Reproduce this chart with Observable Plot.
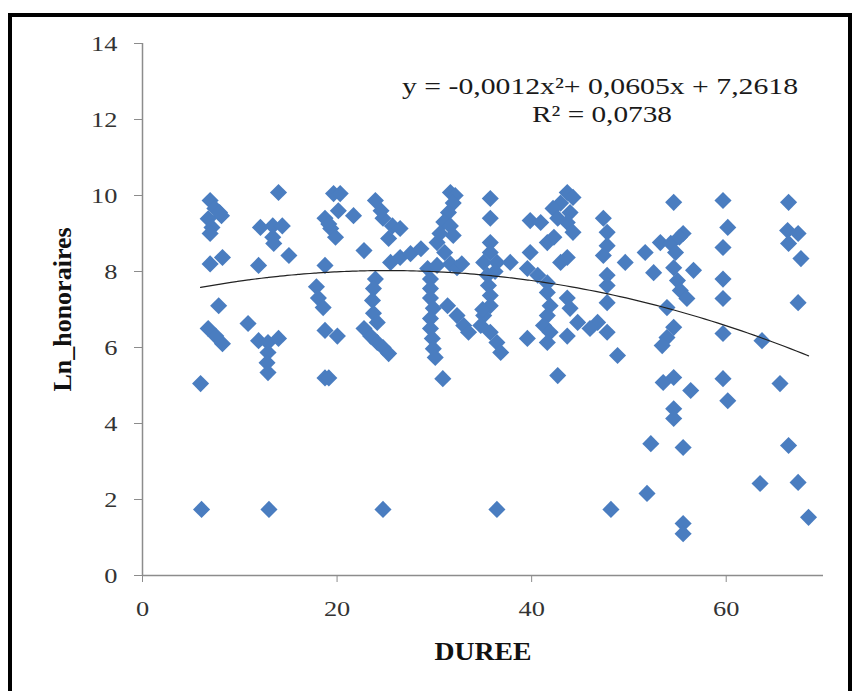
<!DOCTYPE html>
<html>
<head>
<meta charset="utf-8">
<script src="https://cdn.jsdelivr.net/npm/d3@7"></script>
<script src="https://cdn.jsdelivr.net/npm/@observablehq/plot@0.6"></script>
<style>
  body { margin: 0; background: #fff; }
  #wrap { position: relative; width: 854px; height: 691px; overflow: hidden; background: #fff; }
  #frame { position: absolute; left: 8px; top: 13px; width: 836px; height: 700px; border: 4px solid #000; pointer-events: none; }
  svg { font-family: "Liberation Serif", "DejaVu Serif", serif; }
</style>
</head>
<body>
<div id="wrap"><div id="frame"></div></div>
<script>
const duree = [
  6.07,5.97,6.95,7.44,8.12,6.75,7.14,6.95,6.95,8.22,7.83,6.75,8.22,7.53,7.92,
  13.98,12.12,13.39,14.37,13.39,13.49,15.05,11.93,10.85,11.93,12.90,13.98,12.90,12.80,12.90,13.0,
  19.64,20.32,18.76,19.35,19.84,21.69,18.76,17.88,18.08,18.57,18.76,20.03,18.76,19.15,20.13,19.15,
  23.94,24.72,25.69,26.48,25.30,22.77,25.50,26.48,27.55,28.62,23.94,23.74,23.64,23.74,24.13,22.77,23.45,24.13,24.72,25.30,24.72,24.52,
  31.65,32.14,31.94,31.45,30.97,31.65,31.94,30.28,29.31,30.28,31.65,32.33,29.60,29.60,29.60,29.89,29.60,29.60,29.79,29.89,30.09,31.36,32.33,33.02,33.51,30.87,30.58,32.82,31.06,
  35.75,35.75,35.75,35.75,35.07,36.43,37.80,35.46,35.56,35.75,35.75,35.07,34.77,35.75,36.43,36.82,36.43,36.24,34.97,
  43.66,42.98,42.20,43.95,43.66,44.25,42.68,39.85,40.93,41.61,39.85,39.56,40.63,41.61,42.98,43.66,41.61,41.90,41.61,41.22,41.90,41.61,43.66,43.95,44.73,43.66,39.56,42.68,44.25,42.29,
  46.78,47.76,47.37,47.76,47.76,47.37,49.62,47.76,47.76,47.76,48.83,48.15,46.00,
  51.67,54.60,53.23,54.30,55.57,52.54,54.60,56.64,54.99,55.28,55.96,53.91,54.60,53.91,53.42,53.52,54.60,56.35,54.60,54.60,52.25,55.57,51.86,55.57,55.57,54.79,55.18,
  59.67,60.16,59.67,59.67,59.67,59.67,59.67,60.16,63.68,65.53,63.48,66.41,66.31,67.39,66.41,67.68,67.39,66.41,67.39,68.46
];
const lnHonoraires = [
  1.74,5.05,9.87,9.66,9.47,9.39,9.16,9.0,8.2,8.37,7.1,6.5,6.1,6.3,9.55,
  10.08,9.16,9.2,9.2,8.9,8.74,8.42,8.16,6.63,6.18,6.13,6.24,5.87,5.6,5.34,1.74,
  10.05,10.05,9.4,9.13,8.9,9.47,8.16,7.6,7.3,7.05,6.45,6.3,5.2,5.2,9.6,9.25,
  9.87,9.4,9.2,9.13,8.87,8.55,8.24,8.37,8.47,8.6,7.8,7.55,7.24,6.9,6.66,6.5,6.3,6.13,6.0,5.84,1.74,9.6,
  10.08,10.0,9.8,9.55,9.3,9.2,8.95,8.76,8.08,8.16,8.2,8.1,7.8,7.55,7.3,7.03,6.76,6.5,6.24,5.97,5.74,7.1,6.84,6.58,6.4,5.18,9.0,8.2,8.5,
  9.92,9.4,8.76,8.5,8.24,8.24,8.24,7.9,7.63,7.37,7.1,6.84,6.58,6.4,6.13,5.87,1.74,8.0,7.0,
  10.08,9.8,9.66,9.55,9.29,9.03,9.4,9.34,9.29,8.76,8.5,8.08,7.9,7.7,8.24,8.37,7.45,7.1,6.84,6.58,6.4,6.13,7.3,7.03,6.66,6.3,6.24,5.26,9.95,8.9,
  6.66,6.4,9.4,9.03,8.68,8.42,8.24,7.9,7.63,7.18,5.79,1.74,6.5,
  8.5,9.82,8.76,8.74,9.0,7.97,8.1,8.03,7.76,7.5,7.29,7.05,6.53,6.26,6.05,5.08,5.21,4.87,4.39,4.13,3.47,3.37,2.16,1.37,1.1,8.5,8.9,
  9.87,9.16,8.63,7.8,7.29,6.37,5.18,4.6,6.18,5.05,2.42,9.82,9.08,9.0,8.74,8.34,7.18,3.42,2.45,1.53
];
const xTicks = [0, 20, 40, 60];
const yTicks = [0, 2, 4, 6, 8, 10, 12, 14];
// Trendline coefficients as printed on the chart
const trendCoef = [-0.0012, 0.0605, 7.2618];
const equationLine = "y = -0,0012x\u00B2+ 0,0605x + 7,2618";
const r2Line = "R\u00B2 = 0,0738";
const xLabel = "DUREE";
const yLabel = "Ln_honoraires";

const points = duree.map((d, i) => ({x: d, y: lnHonoraires[i]}));
const xMin = d3.min(duree), xMax = d3.max(duree);
const trend = d3.range(xMin, xMax + 0.001, (xMax - xMin) / 100).map(x => ({x, y: trendCoef[0]*x*x + trendCoef[1]*x + trendCoef[2]}));

const axisColor = "#8c8c8c";
const chart = Plot.plot({
  width: 854,
  height: 691,
  marginLeft: 142,
  marginRight: 31,
  marginTop: 43,
  marginBottom: 116,
  style: {fontFamily: "'Liberation Serif', serif", background: "transparent"},
  x: {domain: [0, 70]},
  y: {domain: [0, 14]},
  marks: [
    Plot.ruleX([0], {stroke: axisColor, strokeWidth: 1.5}),
    Plot.ruleY([0], {stroke: axisColor, strokeWidth: 1.5}),
    Plot.axisX({ticks: xTicks, tickSize: 7, tickPadding: 18, fontSize: 22, label: null, stroke: axisColor, fill: "#333"}),
    Plot.axisY({ticks: yTicks, tickSize: 8, tickPadding: 17, fontSize: 22, label: null, stroke: axisColor, fill: "#333"}),
    Plot.dot(points, {x: "x", y: "y", symbol: "diamond2", r: 7.7, fill: "#4a7dc0", stroke: "none"}),
    Plot.line(trend, {x: "x", y: "y", stroke: "#222", strokeWidth: 1.2, curve: "natural"}),
    Plot.text([equationLine], {frameAnchor: "top", dx: 117, dy: 34, fontSize: 23, fill: "#1a1a1a", textAnchor: "middle"}),
    Plot.text([r2Line], {frameAnchor: "top", dx: 119, dy: 62, fontSize: 23, fill: "#1a1a1a", textAnchor: "middle"}),
    Plot.text([yLabel], {frameAnchor: "left", dx: -80, rotate: -90, textAnchor: "middle", fontSize: 26, fontWeight: "bold", fill: "#111"}),
    Plot.text([xLabel], {frameAnchor: "bottom", dy: 84, fontSize: 25, fontWeight: "bold", fill: "#111"})
  ]
});
document.getElementById("wrap").prepend(chart);

// The reference glyphs look horizontally stretched; mimic it with textLength
const targetWidths = {[equationLine]: 396, [r2Line]: 140, [xLabel]: 97};
d3.select(chart).selectAll("text").each(function() {
  const t = this.textContent;
  if (t === yLabel) return;
  const len = this.getComputedTextLength();
  const target = targetWidths[t] !== undefined ? targetWidths[t] : len * 1.2;
  this.setAttribute("textLength", target);
  this.setAttribute("lengthAdjust", "spacingAndGlyphs");
});
</script>
</body>
</html>
